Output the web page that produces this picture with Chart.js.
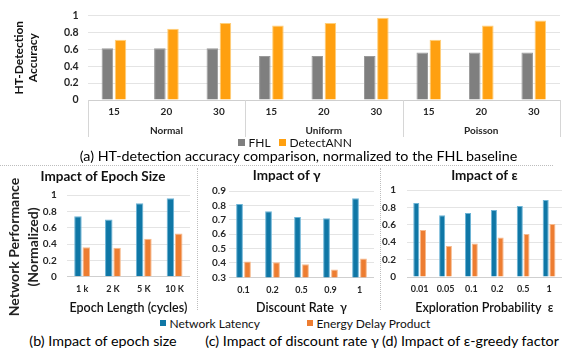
<!DOCTYPE html>
<html>
<head>
<meta charset="utf-8">
<script src="https://cdn.jsdelivr.net/npm/chart.js"></script>
<style>
  body { margin: 0; background: #fff; font-family: Lato, sans-serif; color: #111; }
  #page { position: relative; width: 562px; height: 352px; overflow: hidden; }
  canvas { position: absolute; }
  .cap { position: absolute; transform: translateX(-50%); font-size: 14.3px; white-space: nowrap; line-height: 18px; color: #000; }
  .leg { position: absolute; display: flex; align-items: center; white-space: nowrap; color: #111; }
  .sw { display: inline-block; margin-right: 4px; }
  .hdot { position: absolute; border-top: 1px dotted #bdbdbd; }
  .vdot { position: absolute; border-left: 1px dotted #bdbdbd; }
  #ytitle { position: absolute; width: 160px; text-align: center; font-weight: bold; font-size: 14px; line-height: 19px; transform: rotate(-90deg); color: #222; }
</style>
</head>
<body>
<div id="page">
  <canvas id="chartA" width="562" height="140" style="left:0;top:0"></canvas>
  <div class="hdot" style="left:0;top:165px;width:553px"></div>
  <div class="vdot" style="left:197px;top:168px;height:142px"></div>
  <div class="vdot" style="left:380px;top:168px;height:142px"></div>
  <canvas id="chartB" width="197" height="150" style="left:0;top:165px"></canvas>
  <canvas id="chartC" width="183" height="150" style="left:197px;top:165px"></canvas>
  <canvas id="chartD" width="182" height="150" style="left:380px;top:165px"></canvas>
  <div id="ytitle" style="left:-57px;top:228px">Network Performance<br>(Normalized)</div>
  <div id="legA"></div>
  <div id="legB"></div>
  <div class="cap" style="left:298.5px;top:147px">(a) HT-detection accuracy comparison, normalized to the FHL baseline</div>
  <div class="cap" style="left:103px;top:332px">(b) Impact of epoch size</div>
  <div class="cap" style="left:292px;top:332px">(c) Impact of discount rate γ</div>
  <div class="cap" style="left:470.5px;top:332px">(d) Impact of ε-greedy factor</div>
</div>
<script>
// (a) HT-detection accuracy
const groups = ["Normal", "Uniform", "Poisson"];
const htLabels = ["15", "20", "30", "15", "20", "30", "15", "20", "30"];
const fhl = [0.61, 0.61, 0.61, 0.52, 0.52, 0.52, 0.56, 0.56, 0.56];
const detectAnn = [0.71, 0.84, 0.91, 0.88, 0.91, 0.97, 0.71, 0.88, 0.94];
const accTicks = [0, 0.2, 0.4, 0.6, 0.8, 1];

// (b) epoch size
const epochLabels = ["1 k", "2 K", "5 K", "10 K"];
const epochLatency = [0.74, 0.70, 0.90, 0.96];
const epochEdp = [0.36, 0.355, 0.465, 0.53];

// (c) discount rate
const gammaLabels = ["0.1", "0.2", "0.5", "0.9", "1"];
const gammaLatency = [0.81, 0.76, 0.72, 0.71, 0.85];
const gammaEdp = [0.41, 0.405, 0.39, 0.355, 0.43];
const gammaTicks = [0.3, 0.4, 0.5, 0.6, 0.7, 0.8, 0.9];

// (d) exploration probability
const epsLabels = ["0.01", "0.05", "0.1", "0.2", "0.5", "1"];
const epsLatency = [0.85, 0.71, 0.735, 0.77, 0.815, 0.885];
const epsEdp = [0.54, 0.355, 0.385, 0.455, 0.495, 0.61];

const perfTicks = [0, 0.2, 0.4, 0.6, 0.8, 1];

const seriesA = ["FHL", "DetectANN"];
const seriesB = ["Network Latency", "Energy Delay Product"];
const colorsA = ["#7f7f7f", "#ffa010"];
const bordersA = ["#9a9a9a", "#ffcf7a"];
const colorsB = ["#0f77a6", "#ed7d31"];
const bordersB = ["#6cb4d6", "#f6b98c"];

Chart.defaults.font.family = "Lato, sans-serif";
Chart.defaults.color = "#262626";
Chart.defaults.animation = false;

const gridColor = c => c.index === 0 ? "#cfcfcf" : "#e4e4e4";
const fmt = v => String(+v.toFixed(1));
const fixTicks = list => s => { s.ticks = list.map(v => ({ value: v })); };

// lines between the groups of the two-level axis in (a)
const groupLines = {
  id: "groupLines",
  afterDraw(chart) {
    const x = chart.scales.x;
    const half = (x.getPixelForValue(1) - x.getPixelForValue(0)) / 2;
    const c = chart.ctx;
    c.save();
    c.strokeStyle = "#d6d6d6";
    c.lineWidth = 1;
    [0, 3, 6, 9].forEach(i => {
      const px = Math.round(x.getPixelForValue(Math.min(i, 8)) + (i === 9 ? half : -half)) + 0.5;
      c.beginPath();
      c.moveTo(px, chart.chartArea.bottom);
      c.lineTo(px, 137);
      c.stroke();
    });
    c.restore();
  }
};

new Chart(document.getElementById("chartA"), {
  type: "bar",
  data: {
    labels: htLabels,
    datasets: [
      { label: seriesA[0], data: fhl, backgroundColor: colorsA[0], borderColor: bordersA[0], borderWidth: 1 },
      { label: seriesA[1], data: detectAnn, backgroundColor: colorsA[1], borderColor: bordersA[1], borderWidth: 1 }
    ]
  },
  options: {
    responsive: false,
    categoryPercentage: 0.5,
    barPercentage: 0.88,
    layout: { padding: { top: 15, right: 2, left: 0, bottom: 0 } },
    plugins: { legend: { display: false }, tooltip: { enabled: false } },
    scales: {
      x: {
        grid: { display: false, drawTicks: false },
        border: { display: false },
        ticks: { padding: 6, autoSkip: false, font: { size: 10, weight: "bold" } },
        afterFit: s => { s.height = 22; }
      },
      x2: {
        type: "category",
        labels: groups,
        position: "bottom",
        grid: { display: false, drawTicks: false },
        border: { display: false },
        ticks: { padding: 3, font: { size: 10, weight: "bold" } },
        afterFit: s => { s.height = 18; }
      },
      y: {
        min: 0, max: 1,
        afterBuildTicks: fixTicks(accTicks),
        ticks: { padding: 9, autoSkip: false, callback: fmt, font: { size: 10.5, weight: "bold" } },
        grid: { color: gridColor, drawTicks: false },
        border: { display: false },
        title: {
          display: true,
          text: ["HT-Detection", "Accuracy"],
          color: "#111",
          padding: { top: 12.5, bottom: 12.5 },
          font: { size: 12, weight: "bold", lineHeight: 1.12 }
        },
        afterFit: s => { s.width = 87.7; }
      }
    }
  },
  plugins: [groupLines]
});

function panel(id, o) {
  return new Chart(document.getElementById(id), {
    type: "bar",
    data: {
      labels: o.labels,
      datasets: [
        { label: seriesB[0], data: o.latency, backgroundColor: colorsB[0], borderColor: bordersB[0], borderWidth: 1 },
        { label: seriesB[1], data: o.edp, backgroundColor: colorsB[1], borderColor: bordersB[1], borderWidth: 1 }
      ]
    },
    options: {
      responsive: false,
      categoryPercentage: o.catPct,
      barPercentage: o.barPct,
      layout: { padding: { left: o.padL, right: o.padR, top: 0, bottom: 0 } },
      plugins: {
        legend: { display: false },
        tooltip: { enabled: false },
        title: {
          display: true,
          text: o.title,
          fullSize: o.fullTitle,
          color: "#111",
          font: { size: 13.5, weight: "bold", lineHeight: 1.2 },
          padding: { top: o.titleTop, bottom: o.plotTop - o.titleTop - 16.2 }
        }
      },
      scales: {
        x: {
          grid: { display: false, drawTicks: false },
          border: { display: false },
          ticks: { padding: 7, autoSkip: false, font: { size: 9, weight: "bold" } },
          title: { display: true, text: o.xTitle, padding: 0, color: "#111", font: { size: 12.5, weight: "600" } },
          afterFit: s => { s.height = 150 - o.plotBottom; }
        },
        y: {
          min: o.ticks[0], max: o.ticks[o.ticks.length - 1],
          afterBuildTicks: fixTicks(o.ticks),
          ticks: { padding: o.yPad, autoSkip: false, callback: fmt, font: { size: 10, weight: "bold" } },
          grid: { color: gridColor, drawTicks: false },
          border: { display: false },
          afterFit: s => { s.width = o.yWidth; }
        }
      }
    }
  });
}

panel("chartB", {
  labels: epochLabels, latency: epochLatency, edp: epochEdp, ticks: perfTicks,
  title: "Impact of Epoch Size", xTitle: "Epoch Length (cycles)", fullTitle: true,
  padL: 16, padR: 7, yWidth: 50.7, yPad: 10,
  titleTop: 3.9, plotTop: 30, plotBottom: 111.7,
  catPct: 0.54, barPct: 0.9
});

panel("chartC", {
  labels: gammaLabels, latency: gammaLatency, edp: gammaEdp, ticks: gammaTicks,
  title: "Impact of γ", xTitle: "Discount Rate  γ", fullTitle: true,
  padL: 2.4, padR: 6, yWidth: 29.6, yPad: 3,
  titleTop: 2.9, plotTop: 26, plotBottom: 112.3,
  catPct: 0.55, barPct: 0.85
});

panel("chartD", {
  labels: epsLabels, latency: epsLatency, edp: epsEdp, ticks: perfTicks,
  title: "Impact of ε", xTitle: "Exploration Probability  ε", fullTitle: false,
  padL: 0, padR: 0, yWidth: 26.7, yPad: 10.7,
  titleTop: 2.9, plotTop: 25, plotBottom: 112,
  catPct: 0.52, barPct: 0.9
});

// legends
function legend(elId, names, colors, lefts, top, size, box) {
  const el = document.getElementById(elId);
  names.forEach((n, i) => {
    const item = document.createElement("div");
    item.className = "leg";
    item.style.left = lefts[i] + "px";
    item.style.top = top + "px";
    item.style.fontSize = size + "px";
    item.innerHTML = '<span class="sw" style="width:' + box + 'px;height:' + box + 'px;background:' + colors[i] + '"></span>' + n;
    el.appendChild(item);
  });
}
legend("legA", seriesA, colorsA, [237.5, 278.5], 135, 12, 7);
legend("legB", seriesB, colorsB, [159.5, 306.5], 315.5, 12, 6);
</script>
</body>
</html>
